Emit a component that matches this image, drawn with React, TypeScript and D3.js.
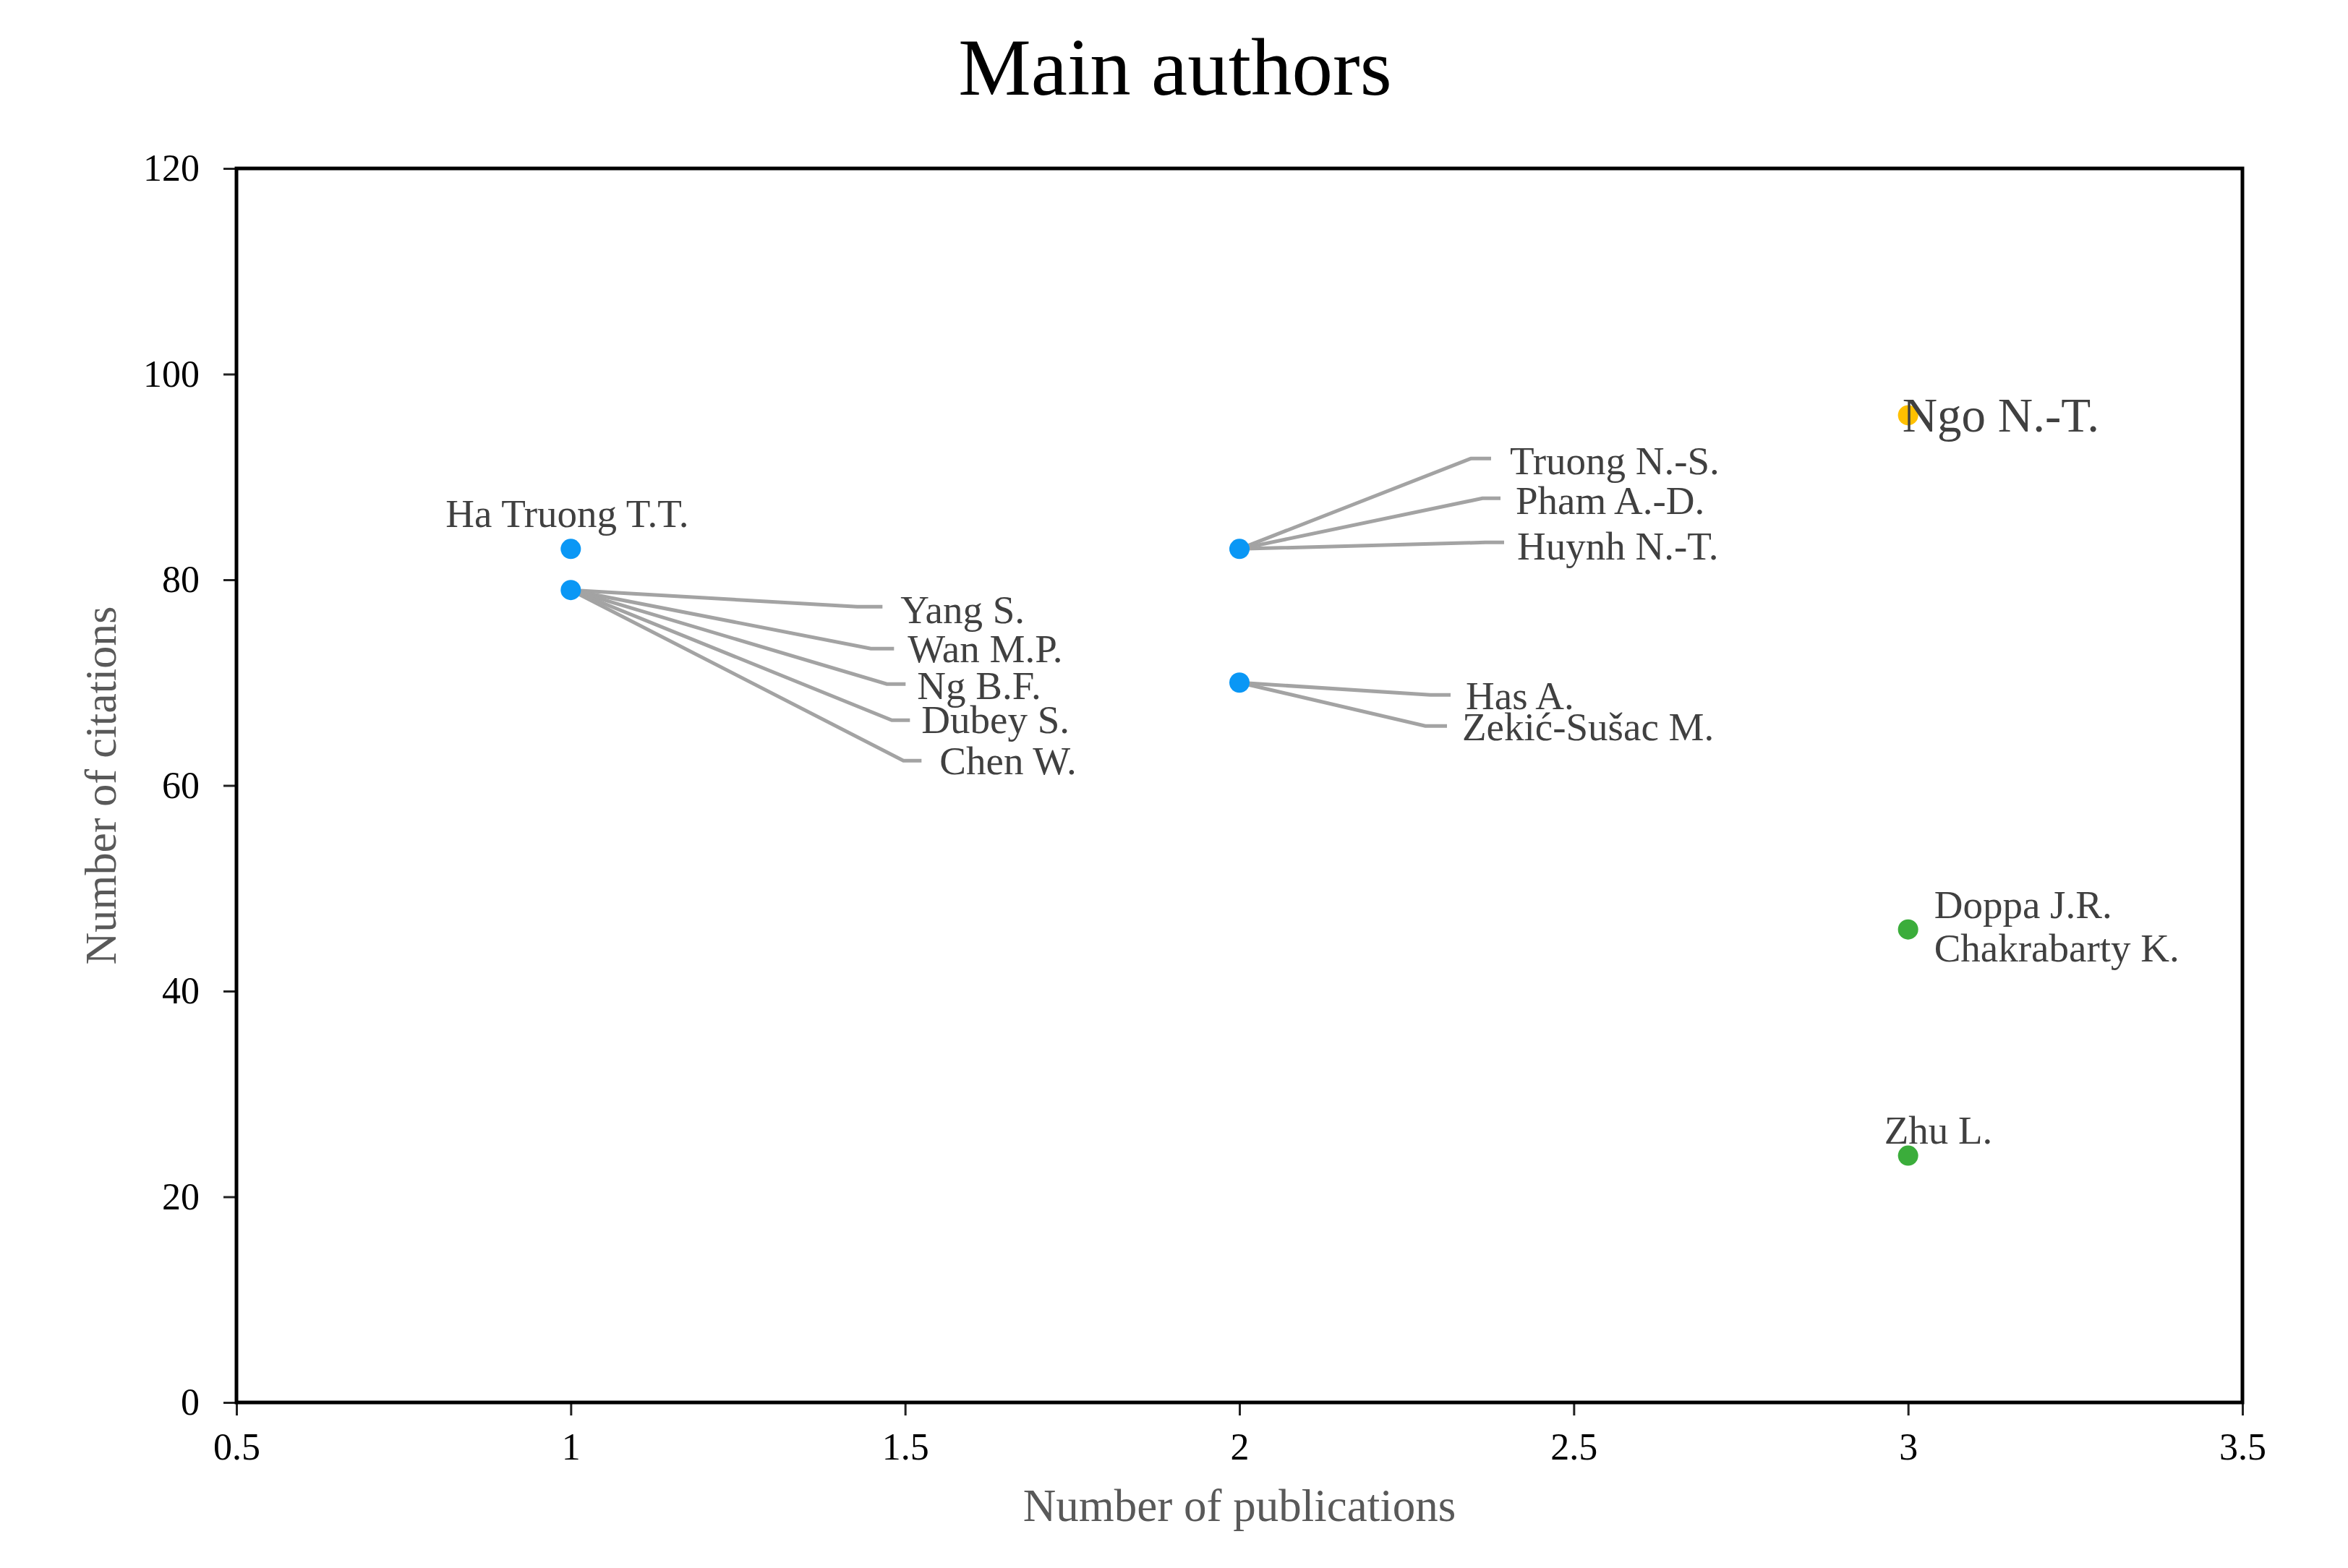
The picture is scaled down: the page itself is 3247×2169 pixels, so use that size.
import React, { useEffect, useRef } from 'react';
import * as d3 from 'd3';

// points: number of publications vs number of citations
const pointPublications = [1, 1, 2, 2, 3, 3, 3];
const pointCitations = [83, 79, 83, 70, 96, 46, 24];
const pointGroups = ['low', 'low', 'low', 'low', 'top', 'mid', 'mid'];
const pointAuthors = [
  ['Ha Truong T.T.'],
  ['Yang S.', 'Wan M.P.', 'Ng B.F.', 'Dubey S.', 'Chen W.'],
  ['Truong N.-S.', 'Pham A.-D.', 'Huynh N.-T.'],
  ['Has A.', 'Zekić-Sušac M.'],
  ['Ngo N.-T.'],
  ['Doppa J.R.', 'Chakrabarty K.'],
  ['Zhu L.'],
];

const xTicks = [0.5, 1, 1.5, 2, 2.5, 3, 3.5];
const yTicks = [0, 20, 40, 60, 80, 100, 120];

const groupColors: Record<string, string> = {
  low: '#0a97f5',
  top: '#ffc000',
  mid: '#3bad3b',
};

// label placement relative to the point (px); elbow = leader line bend
type LabelPos = { dx: number; dy: number; anchor?: string; size?: number; elbow?: [number, number]; end?: number };
const labelLayout: Record<string, LabelPos> = {
  'Ha Truong T.T.': { dx: -5, dy: -30, anchor: 'middle' },
  'Yang S.': { dx: 456, dy: 46, elbow: [396, 23], end: 431 },
  'Wan M.P.': { dx: 466, dy: 100, elbow: [415, 81], end: 447 },
  'Ng B.F.': { dx: 479, dy: 151, elbow: [437, 130], end: 463 },
  'Dubey S.': { dx: 485, dy: 198, elbow: [444, 180], end: 469 },
  'Chen W.': { dx: 510, dy: 255, elbow: [460, 236], end: 485 },
  'Truong N.-S.': { dx: 374, dy: -103, elbow: [320, -125], end: 348 },
  'Pham A.-D.': { dx: 382, dy: -48, elbow: [336, -70], end: 361 },
  'Huynh N.-T.': { dx: 384, dy: 15, elbow: [340, -9], end: 366 },
  'Has A.': { dx: 313, dy: 37, elbow: [264, 17], end: 292 },
  'Zekić-Sušac M.': { dx: 308, dy: 80, elbow: [257, 60], end: 287 },
  'Ngo N.-T.': { dx: -8, dy: 23, size: 67 },
  'Doppa J.R.': { dx: 36, dy: -16 },
  'Chakrabarty K.': { dx: 36, dy: 44 },
  'Zhu L.': { dx: -33, dy: -17 },
};

const W = 3247;
const H = 2169;
const FONT = '"Liberation Serif", "Times New Roman", serif';

const App: React.FC = () => {
  const ref = useRef<SVGSVGElement>(null);

  useEffect(() => {
    if (!ref.current) return;
    const svg = d3.select(ref.current);
    svg.selectAll('*').remove();

    const left = 327, right = 3101, top = 233, bottom = 1940;

    const x = d3.scaleLinear().domain([0.5, 3.5]).range([left, right]);
    const y = d3.scaleLinear().domain([0, 120]).range([bottom, top]);

    svg.append('rect').attr('width', W).attr('height', H).attr('fill', '#fff');

    // title
    svg.append('text')
      .attr('x', 1625).attr('y', 131)
      .attr('text-anchor', 'middle')
      .attr('font-family', FONT).attr('font-size', 113)
      .attr('fill', '#000')
      .text('Main authors');

    // axes
    const xAxis = svg.append('g')
      .attr('transform', `translate(0,${bottom})`)
      .call(d3.axisBottom(x).tickValues(xTicks).tickSize(18).tickPadding(24).tickFormat(d => String(d)));
    const yAxis = svg.append('g')
      .attr('transform', `translate(${left},0)`)
      .call(d3.axisLeft(y).tickValues(yTicks).tickSize(18).tickPadding(33).tickFormat(d => String(d)));

    [xAxis, yAxis].forEach(g => {
      g.select('.domain').remove();
      g.selectAll('.tick line').attr('stroke', '#222').attr('stroke-width', 3);
      g.selectAll('.tick text')
        .attr('font-family', FONT).attr('font-size', 52).attr('fill', '#000');
    });
    xAxis.selectAll('.tick text').attr('dy', '0.71em');

    // frame
    svg.append('rect')
      .attr('x', left).attr('y', top)
      .attr('width', right - left).attr('height', bottom - top)
      .attr('fill', 'none').attr('stroke', '#000').attr('stroke-width', 5);

    // axis titles
    svg.append('text')
      .attr('x', (left + right) / 2).attr('y', 2104)
      .attr('text-anchor', 'middle')
      .attr('font-family', FONT).attr('font-size', 63)
      .attr('fill', '#595959')
      .text('Number of publications');
    svg.append('text')
      .attr('transform', `translate(160,${(top + bottom) / 2}) rotate(-90)`)
      .attr('text-anchor', 'middle')
      .attr('font-family', FONT).attr('font-size', 62)
      .attr('fill', '#595959')
      .text('Number of citations');

    const leaders = svg.append('g');
    const dots = svg.append('g');
    const labels = svg.append('g');

    pointPublications.forEach((p, i) => {
      const cx = x(p);
      const cy = y(pointCitations[i]);
      dots.append('circle')
        .attr('cx', cx).attr('cy', cy).attr('r', 14)
        .attr('fill', groupColors[pointGroups[i]]);

      pointAuthors[i].forEach(name => {
        const lp = labelLayout[name];
        if (lp.elbow) {
          const [ex, ey] = lp.elbow;
          leaders.append('path')
            .attr('d', d3.line()([[cx, cy], [cx + ex, cy + ey], [cx + (lp.end ?? ex), cy + ey]]))
            .attr('fill', 'none')
            .attr('stroke', '#a3a3a3')
            .attr('stroke-width', 5);
        }
        labels.append('text')
          .attr('x', cx + lp.dx).attr('y', cy + lp.dy)
          .attr('text-anchor', lp.anchor ?? 'start')
          .attr('font-family', FONT)
          .attr('font-size', lp.size ?? 55)
          .attr('fill', '#404040')
          .text(name);
      });
    });
  }, []);

  return <svg ref={ref} width={W} height={H} style={{ position: 'absolute', left: 0, top: 0 }} />;
};

export default App;
